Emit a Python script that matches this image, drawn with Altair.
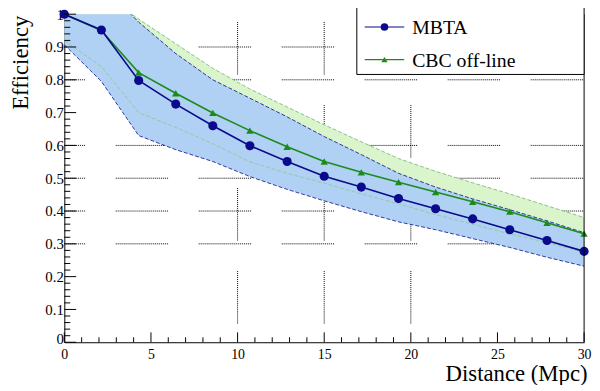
import altair as alt
import pandas as pd

# ---------------- data ----------------
distance = [0, 2.14, 4.29, 6.43, 8.57, 10.71, 12.86, 15.0, 17.14, 19.29, 21.43, 23.57, 25.71, 27.86, 30.0]
mbta = [1.0, 0.952, 0.798, 0.726, 0.660, 0.599, 0.551, 0.506, 0.473, 0.438, 0.407, 0.376, 0.343, 0.310, 0.277]
cbc = [1.0, 0.950, 0.822, 0.759, 0.699, 0.645, 0.596, 0.551, 0.518, 0.488, 0.458, 0.428, 0.398, 0.364, 0.331]
mbta_lo = [0.907, 0.795, 0.630, 0.587, 0.551, 0.505, 0.466, 0.431, 0.398, 0.367, 0.343, 0.316, 0.289, 0.259, 0.232]
mbta_hi = [1.10, 1.09, 0.976, 0.880, 0.800, 0.744, 0.687, 0.627, 0.572, 0.515, 0.473, 0.437, 0.404, 0.370, 0.334]
cbc_lo = [0.92, 0.84, 0.70, 0.655, 0.605, 0.55, 0.515, 0.485, 0.452, 0.422, 0.389, 0.360, 0.330, 0.304, 0.274]
cbc_hi = [1.10, 1.07, 0.985, 0.910, 0.835, 0.772, 0.717, 0.663, 0.611, 0.560, 0.521, 0.486, 0.452, 0.416, 0.380]

series_names = ["MBTA", "CBC off-line"]
x_ticks = [0, 5, 10, 15, 20, 25, 30]
y_ticks = [0, 0.1, 0.2, 0.3, 0.4, 0.5, 0.6, 0.7, 0.8, 0.9, 1.0]
grid_y = [0.3, 0.4, 0.5, 0.6, 0.8, 0.9]
grid_x = [10, 15, 20]

# ---------------- styling ----------------
W, H = 526, 332
NAVY = "#0a0a8c"
GREEN = "#1b8c1b"
BLUE_FILL = "#b0d1f3"
GREEN_FILL = "#daf5cc"
FONT = "Liberation Serif"
GRID_DASH = [1, 1] * 26 + [1, 31]

df = pd.DataFrame({
    "d": distance, "mbta": mbta, "cbc": cbc,
    "mlo": mbta_lo, "mhi": mbta_hi, "clo": cbc_lo, "chi": cbc_hi,
})

xsc = alt.Scale(domain=[0, 30], nice=False, zero=False)
ysc = alt.Scale(domain=[0, 1], nice=False, zero=False)

x_axis = alt.Axis(
    values=x_ticks, ticks=False, grid=False, domain=True, domainColor="black", domainWidth=1,
    labelFont=FONT, labelFontSize=14, labelColor="black", labelPadding=5, labelFlush=False,
    title="Distance (Mpc)", titleFont=FONT, titleFontSize=23, titleFontWeight="normal",
    titleColor="black", titleAlign="right", titleBaseline="alphabetic", titleX=529, titleY=39,
)
y_axis = alt.Axis(
    values=y_ticks, ticks=False, grid=False, domain=True, domainColor="black", domainWidth=1,
    labelFont=FONT, labelFontSize=15, labelColor="black", labelPadding=1, labelFlush=False,
    labelOffset={"condition": {"test": "datum.value == 0", "value": -4}, "value": 0},
    labelExpr="format(datum.value, '.1~f')",
    title="Efficiency", titleFont=FONT, titleFontSize=23, titleFontWeight="normal",
    titleColor="black", titleAngle=270, titleAlign="right", titleBaseline="alphabetic",
    titleX=-37, titleY=1,
)


def X(field):
    return alt.X(field, type="quantitative", scale=xsc, axis=x_axis)


def Y(field):
    return alt.Y(field, type="quantitative", scale=ysc, axis=y_axis)


# grid (dotted segments)
gy = alt.Chart(pd.DataFrame({"v": grid_y})).mark_rule(
    color="black", strokeWidth=1, strokeDash=GRID_DASH, strokeDashOffset=32
).encode(y=Y("v"), x=alt.value(0), x2=alt.value(W))
gx = alt.Chart(pd.DataFrame({"v": grid_x})).mark_rule(
    color="black", strokeWidth=1, strokeDash=GRID_DASH, strokeDashOffset=65
).encode(x=X("v"), y=alt.value(H), y2=alt.value(0))

base = alt.Chart(df)
green_band = base.mark_area(color=GREEN_FILL, opacity=1, clip=True).encode(x=X("d"), y=Y("clo"), y2="chi")
blue_band = base.mark_area(color=BLUE_FILL, opacity=1, clip=True).encode(x=X("d"), y=Y("mlo"), y2="mhi")

edges = []
for f, col in [("mlo", NAVY), ("mhi", NAVY), ("clo", "#8cc78c"), ("chi", "#6fb36f")]:
    edges.append(base.mark_line(color=col, strokeWidth=0.8, strokeDash=[4, 2], clip=True).encode(x=X("d"), y=Y(f)))

cbc_line = base.mark_line(color=GREEN, strokeWidth=1.6).encode(x=X("d"), y=Y("cbc"))
cbc_pts = base.mark_point(shape="triangle-up", filled=True, color=GREEN, size=55, opacity=1).encode(x=X("d"), y=Y("cbc"))
mbta_line = base.mark_line(color=NAVY, strokeWidth=1.6).encode(x=X("d"), y=Y("mbta"))
mbta_pts = base.mark_point(shape="circle", filled=True, color=NAVY, size=85, opacity=1).encode(x=X("d"), y=Y("mbta"))

# inward ticks
y_minor = [round(i * 0.02, 2) for i in range(51) if i % 5]
x_minor = [i for i in range(31) if i % 5]
ty_major = alt.Chart(pd.DataFrame({"v": y_ticks})).mark_rule(color="black", strokeWidth=1).encode(
    y=Y("v"), x=alt.value(0), x2=alt.value(12))
ty_minor = alt.Chart(pd.DataFrame({"v": y_minor})).mark_rule(color="black", strokeWidth=1).encode(
    y=Y("v"), x=alt.value(0), x2=alt.value(6))
tx_major = alt.Chart(pd.DataFrame({"v": x_ticks})).mark_rule(color="black", strokeWidth=1).encode(
    x=X("v"), y=alt.value(H), y2=alt.value(H - 10))
tx_minor = alt.Chart(pd.DataFrame({"v": x_minor})).mark_rule(color="black", strokeWidth=1).encode(
    x=X("v"), y=alt.value(H), y2=alt.value(H - 5))
right_frame = alt.Chart(pd.DataFrame({"v": [30]})).mark_rule(color="black", strokeWidth=1).encode(
    x=X("v"), y=alt.value(0), y2=alt.value(H))

# legend
leg = pd.DataFrame({
    "name": series_names,
    "ly": [13, 46],
    "shape": ["circle", "triangle-up"],
    "col": [NAVY, GREEN],
    "size": [60, 40],
})
leg_box = alt.Chart(pd.DataFrame({"a": [0]})).mark_rect(
    fill="white", stroke="black", strokeWidth=1
).encode(x=alt.value(296), x2=alt.value(W), y=alt.value(-10), y2=alt.value(61))
leg_line = alt.Chart(leg).mark_rule(strokeWidth=1.2).encode(
    x=alt.value(304), x2=alt.value(344), y=alt.Y("ly:Q", scale=None),
    color=alt.Color("col:N", scale=None))
leg_pt = alt.Chart(leg).mark_point(filled=True, opacity=1).encode(
    x=alt.value(324), y=alt.Y("ly:Q", scale=None),
    color=alt.Color("col:N", scale=None), shape=alt.Shape("shape:N", scale=None),
    size=alt.Size("size:Q", scale=None))
leg_txt = alt.Chart(leg).mark_text(
    font=FONT, fontSize=20, color="black", align="left", baseline="alphabetic", dy=7
).encode(x=alt.value(352), y=alt.Y("ly:Q", scale=None), text="name:N")

chart = alt.layer(
    gy, gx, green_band, blue_band, *edges,
    cbc_line, cbc_pts, mbta_line, mbta_pts,
    ty_major, ty_minor, tx_major, tx_minor, right_frame,
    leg_box, leg_line, leg_pt, leg_txt,
).properties(
    width=W, height=H,
    autosize=alt.AutoSizeParams(type="none"),
    padding={"left": 57, "top": 4, "right": 8, "bottom": 41},
    background="white",
).configure_view(stroke=None)

chart.save("out.html", embed_options={"renderer": "svg", "actions": False})
